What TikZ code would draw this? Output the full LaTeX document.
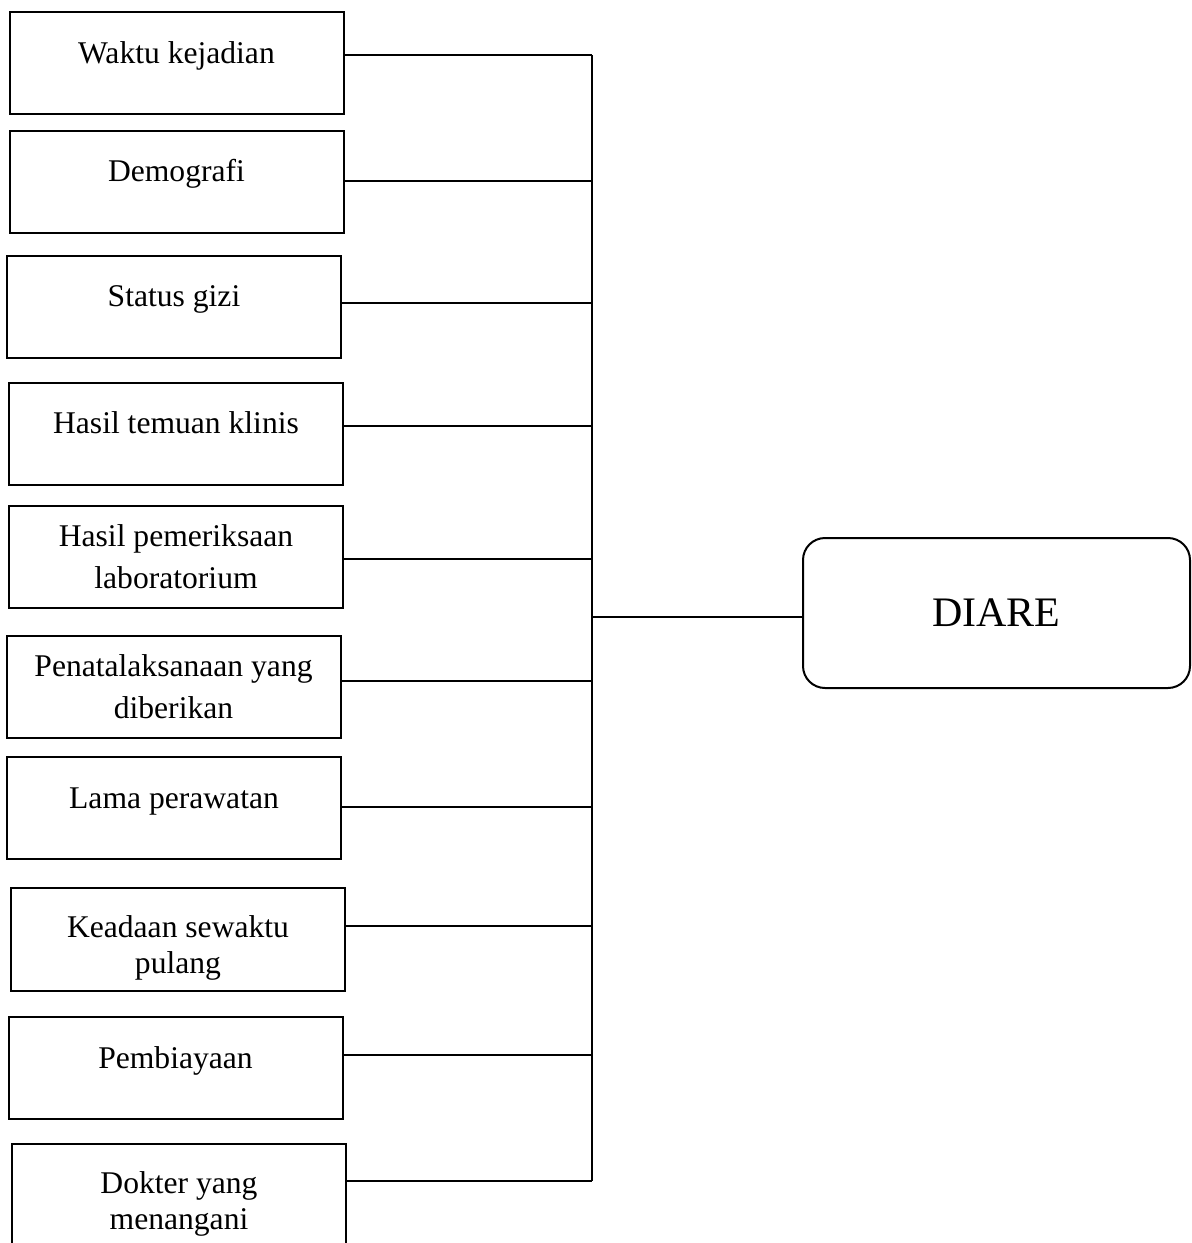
\documentclass[tikz,border=0pt]{standalone}
\usepackage{fontspec}
\setmainfont{Liberation Serif}
\tikzset{
  box/.style={draw, line width=1pt, minimum width=167pt, minimum height=51pt, inner sep=0pt, font=\fontsize{15.8pt}{21pt}\selectfont},
  onebox/.style={box, text height=25.5pt, text depth=25.5pt},
  twobox/.style={box, align=center},
  tightbox/.style={twobox, font=\fontsize{15.8pt}{18pt}\selectfont, text height=42.5pt, text depth=9pt},
  endbox/.style={draw, line width=1pt, rounded corners=11pt, minimum width=193.5pt, minimum height=75pt, font=\fontsize{21pt}{25pt}\selectfont},
  link/.style={line width=0.6pt}
}
\begin{document}
\begin{tikzpicture}[x=0.5pt,y=-0.5pt]
  \useasboundingbox (0,0) rectangle (1192,1243);
  %\draw[very thin,color=gray] (0,0) grid[step=100] (1192,1243);
  \node[onebox] (waktu) at (176.5,63) {Waktu kejadian};
  \node[onebox] (demografi) at (176.5,181.5) {Demografi};
  \node[onebox] (gizi) at (174,306.5) {Status gizi};
  \node[onebox] (klinis) at (176,433.5) {Hasil temuan klinis};
  \node[twobox] (lab) at (176,557) {Hasil pemeriksaan\\laboratorium};
  \node[twobox] (tatalaksana) at (173.5,686.5) {Penatalaksanaan yang\\diberikan};
  \node[onebox] (rawat) at (174,808) {Lama perawatan};
  \node[tightbox] (pulang) at (178,939.5) {Keadaan sewaktu\\pulang};
  \node[onebox] (biaya) at (175.5,1068) {Pembiayaan};
  \node[tightbox] (dokter) at (179,1195.5) {Dokter yang\\menangani};
  \node[endbox] (diare) at (996.5,613) {DIARE};
  % titik pada garis tegak
  \coordinate (s1) at (592,55);
  \coordinate (s2) at (592,181);
  \coordinate (s3) at (592,303);
  \coordinate (s4) at (592,426);
  \coordinate (s5) at (592,559);
  \coordinate (s6) at (592,681);
  \coordinate (s7) at (592,807);
  \coordinate (s8) at (592,926);
  \coordinate (s9) at (592,1055);
  \coordinate (s10) at (592,1181);
  \coordinate (hub) at (592,617);
  \draw[link] (s1) -- (s10);
  \draw[link] (waktu.east |- s1) -- (s1);
  \draw[link] (demografi.east |- s2) -- (s2);
  \draw[link] (gizi.east |- s3) -- (s3);
  \draw[link] (klinis.east |- s4) -- (s4);
  \draw[link] (lab.east |- s5) -- (s5);
  \draw[link] (tatalaksana.east |- s6) -- (s6);
  \draw[link] (rawat.east |- s7) -- (s7);
  \draw[link] (pulang.east |- s8) -- (s8);
  \draw[link] (biaya.east |- s9) -- (s9);
  \draw[link] (dokter.east |- s10) -- (s10);
  \draw[link] (hub) -- (hub -| diare.west);
\end{tikzpicture}
\end{document}
